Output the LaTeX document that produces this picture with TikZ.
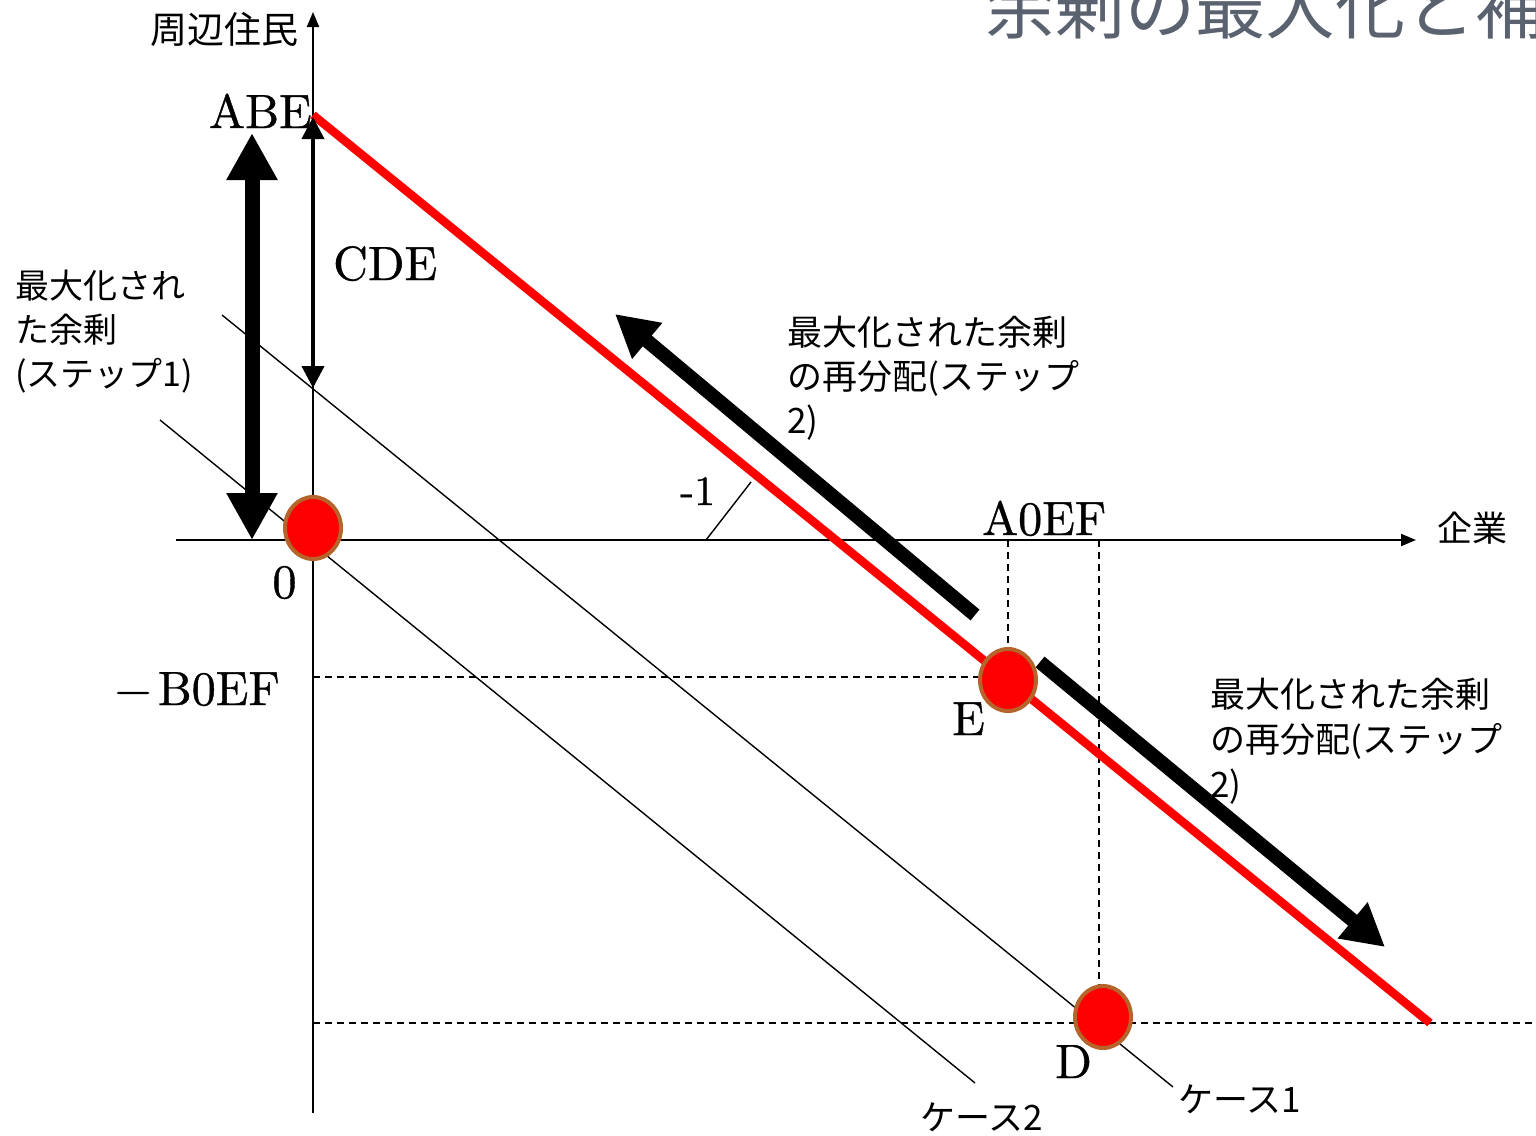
\documentclass[tikz,border=0pt]{standalone}
\usepackage{fontspec}
\newfontfamily\cjk{Noto Sans CJK JP}
\newfontfamily\latf{lmroman10-regular.otf}[FakeBold=0.8]
\usetikzlibrary{arrows.meta,shapes.geometric}
\definecolor{dotbrown}{HTML}{B5652B}
\definecolor{titlegray}{HTML}{5A6270}
\begin{document}
\begin{tikzpicture}[x=1pt,y=-1pt,
  axis/.style={line width=2pt},
  caseline/.style={line width=1.4pt},
  guide/.style={line width=1.4pt, dash pattern=on 7pt off 5pt},
  jp/.style={font=\cjk\fontsize{34}{44}\selectfont, inner sep=0pt, align=left},
  lat/.style={font=\latf\fontsize{48}{48}\selectfont, inner sep=0pt},
  dot/.style={ellipse, fill=red, draw=dotbrown, line width=4pt, minimum width=56pt, minimum height=62pt, inner sep=0pt},
  bigarrow/.style={line width=14pt, -{Triangle[length=42pt,width=44pt]}},
]
\useasboundingbox (0,0) rectangle (1536,1135);
% title (cut at top, as in the reference)
\node[anchor=base west, inner sep=0pt, text=titlegray, font=\cjk\fontsize{70}{70}\selectfont] (title) at (985,33) {余剰の最大化と補};
% coordinates
\coordinate (ytop) at (313,12);
\coordinate (ybot) at (313,1113);
\coordinate (xl) at (176,540);
\coordinate (xr) at (1416,540);
\coordinate (R1) at (313,115);
\coordinate (R2) at (1430,1023);
\coordinate (K1a) at (222,315);
\coordinate (K1b) at (1173,1087);
\coordinate (K2a) at (160,420);
\coordinate (K2b) at (975,1083);
\coordinate (C1) at (313,117);
\coordinate (C2) at (313,388);
\coordinate (T1) at (252,133);
\coordinate (T2) at (252,540);
\coordinate (U1) at (975,615);
\coordinate (U2) at (615,314);
\coordinate (L1) at (1040,662);
\coordinate (L2) at (1385,947);
\coordinate (S1) at (706,540);
\coordinate (S2) at (751,482);
\coordinate (gE1) at (1008,540);
\coordinate (gE2) at (1008,650);
\coordinate (gE3) at (313,677);
\coordinate (gE4) at (980,677);
\coordinate (gD1) at (1099,540);
\coordinate (gD2) at (1099,990);
\coordinate (gD3) at (313,1023);
\coordinate (gD4) at (1536,1023);
% guides
\draw[guide] (gE1) -- (gE2);
\draw[guide] (gE3) -- (gE4);
\draw[guide] (gD1) -- (gD2);
\draw[guide] (gD3) -- (gD4);
% axes
\draw[axis,-{Triangle[length=15pt,width=12pt]}] (ybot) -- (ytop);
\draw[axis,-{Triangle[length=15pt,width=12pt]}] (xl) -- (xr);
% case lines
\draw[caseline] (K1a) -- (K1b);
\draw[caseline] (K2a) -- (K2b);
\draw[caseline] (S1) -- (S2);
% red line
\draw[red,line width=8.5pt] (R1) -- (R2);
% double arrows
\draw[line width=4pt,{Triangle[length=22pt,width=22pt]}-{Triangle[length=22pt,width=22pt]}] (C1) -- (C2);
\draw[line width=15pt,{Triangle[length=47pt,width=48pt]}-{Triangle[length=47pt,width=48pt]}] (T1) -- (T2);
% step 2 arrows
\draw[bigarrow] (U1) -- (U2);
\draw[bigarrow] (L1) -- (L2);
% dots
\node[dot] (O) at (313,528) {};
\node[dot] (E) at (1008,680) {};
\node[dot] (D) at (1103,1017) {};
% labels
\node[anchor=east, inner sep=0pt, font=\cjk\fontsize{37}{37}\selectfont] (ylab) at (299,30) {周辺住民};
\node[anchor=center, inner sep=0pt, font=\cjk\fontsize{35}{35}\selectfont] (xlab) at (1472,528) {企業};
\node[lat, anchor=base east] (abe) at (312,128) {ABE};
\node[lat, anchor=base west] (cde) at (333,280) {CDE};
\node[lat, anchor=base] (zero) at (284.5,598) {0};
\node[lat, anchor=base east] (b0ef) at (280,705) {−\kern6pt B0EF};
\node[lat, anchor=base west] (a0ef) at (982,535) {A0EF};
\node[lat, anchor=base west] (elab) at (952,735) {E};
\node[lat, anchor=base west] (dlab) at (1055,1078) {D};
\node[anchor=base west, inner sep=0pt, font=\latf\fontsize{42}{42}\selectfont] (slope) at (680,505) {-1};
\node[jp, anchor=north west] (step1) at (15,270) {最大化され\\た余剰\\(ステップ1)};
\node[jp, font=\cjk\fontsize{35}{44}\selectfont, anchor=north west] (step2a) at (787,316) {最大化された余剰\\の再分配(ステップ\\2)};
\node[jp, font=\cjk\fontsize{35}{45}\selectfont, anchor=north west] (step2b) at (1210,678) {最大化された余剰\\の再分配(ステップ\\2)};
\node[anchor=center, inner sep=0pt, font=\cjk\fontsize{35}{35}\selectfont] (case2) at (982,1117) {ケース2};
\node[anchor=center, inner sep=0pt, font=\cjk\fontsize{35}{35}\selectfont] (case1) at (1240,1099) {ケース1};
\end{tikzpicture}
\end{document}
